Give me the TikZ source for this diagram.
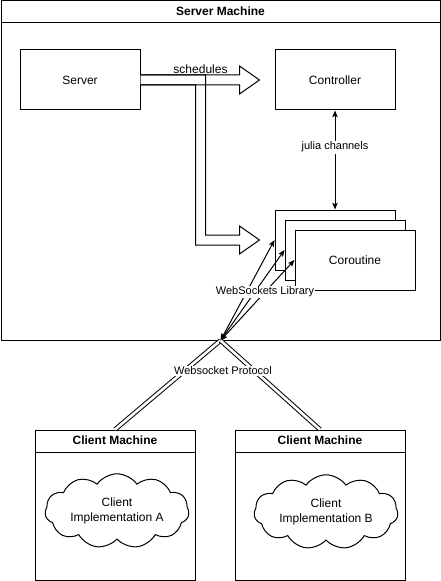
\documentclass[tikz,border=0pt]{standalone}
\usepackage{fontspec}
\setmainfont{Liberation Sans}
\usetikzlibrary{positioning,calc,shapes.symbols,arrows.meta}

\tikzset{
  box/.style={draw, fill=white, minimum width=90pt, minimum height=45pt,
    font=\fontsize{9}{11}\selectfont},
  machine/.style={draw, inner sep=0pt},
  mtitle/.style={font=\bfseries\fontsize{9}{11}\selectfont},
  lbl/.style={fill=white, inner sep=1pt, font=\fontsize{8.25}{10}\selectfont},
  impl/.style={draw, fill=white, cloud, cloud puffs=11, cloud puff arc=110, aspect=2.3,
    minimum width=108pt, minimum height=50pt, align=center, inner sep=0pt,
    font=\fontsize{9}{11}\selectfont},
  blockarrow/.style={draw, line join=miter},
  wire/.style={{Stealth[length=5pt,width=4pt,inset=1pt]}-{Stealth[length=5pt,width=4pt,inset=1pt]}},
  protocol/.style={double, double distance=2pt}
}

\begin{document}
\begin{tikzpicture}[x=0.75pt,y=-0.75pt,line width=0.75pt]
      \useasboundingbox (0,0) rectangle (441,581);
      \node[machine, minimum width=329.25pt, minimum height=254.25pt] (srvmachine) at (220.5,170.5) {};
      \draw ($(srvmachine.north west)+(0,22)$) -- ($(srvmachine.north east)+(0,22)$);
      \node[mtitle] (srvtitle) at ($(srvmachine.north)+(0,11)$) {Server Machine};
      \node[box] (server) at (80,80) {Server};
      \node[box] (controller) at (335,80) {Controller};
      \node[box] (co1) at (335,240) {};
      \node[box] (co2) at (345,250) {};
      \node[box] (co3) at (355,260) {Coroutine};
      % schedules
      \draw[blockarrow, fill=white] ($(server.east)+(0,-5)$) -- ++(65,0) |- ($(co1.west)+(-35,-5)$)
        -- ++(0,-9) -- ($(co1.west)+(-15,0)$) -- ($(co1.west)+(-35,14)$) -- ++(0,-9)
        -| ($(server.east)+(55,5)$) -- ($(server.east)+(0,5)$);
      \draw[blockarrow] ($(server.east)+(0,-5)$) -- ($(controller.west)+(-35,-5)$) -- ++(0,-9)
        -- ($(controller.west)+(-15,0)$) -- ($(controller.west)+(-35,14)$) -- ++(0,-9)
        -- ($(server.east)+(0,5)$);
      \node[font=\fontsize{9}{11}\selectfont] (sched) at ($(server.east)+(60,-11)$) {schedules};
      \draw[wire] (controller.south) -- node[lbl, pos=0.37] (chan) {julia channels} (co1.north);
      \coordinate (wsport) at (srvmachine.south);
      \draw[wire] (wsport) -- (co1.west);
      \draw[wire] (wsport) -- (co2.west);
      \draw[wire] (wsport) -- (co3.west);
      \node[lbl] (wslib) at (265,292) {WebSockets Library};
      % clients
      \node[machine, minimum width=120pt, minimum height=112.5pt] (clientA) at (115,505) {};
      \draw ($(clientA.north west)+(0,23)$) -- ($(clientA.north east)+(0,23)$);
      \node[mtitle] (titleA) at ($(clientA.north)+(0,11)$) {Client Machine};
      \node[impl] (implA) at (117,511) {Client\\Implementation A};
      \node[machine, minimum width=127.5pt, minimum height=112.5pt] (clientB) at (320,505) {};
      \draw ($(clientB.north west)+(0,23)$) -- ($(clientB.north east)+(0,23)$);
      \node[mtitle] (titleB) at ($(clientB.north)+(0,11)$) {Client Machine};
      \node[impl] (implB) at (326,512) {Client\\Implementation B};
      \draw[protocol] (wsport) -- (clientA.north);
      \draw[protocol] (wsport) -- (clientB.north);
      \node[lbl] (proto) at (223,371) {Websocket Protocol};
     \end{tikzpicture}
\end{document}
